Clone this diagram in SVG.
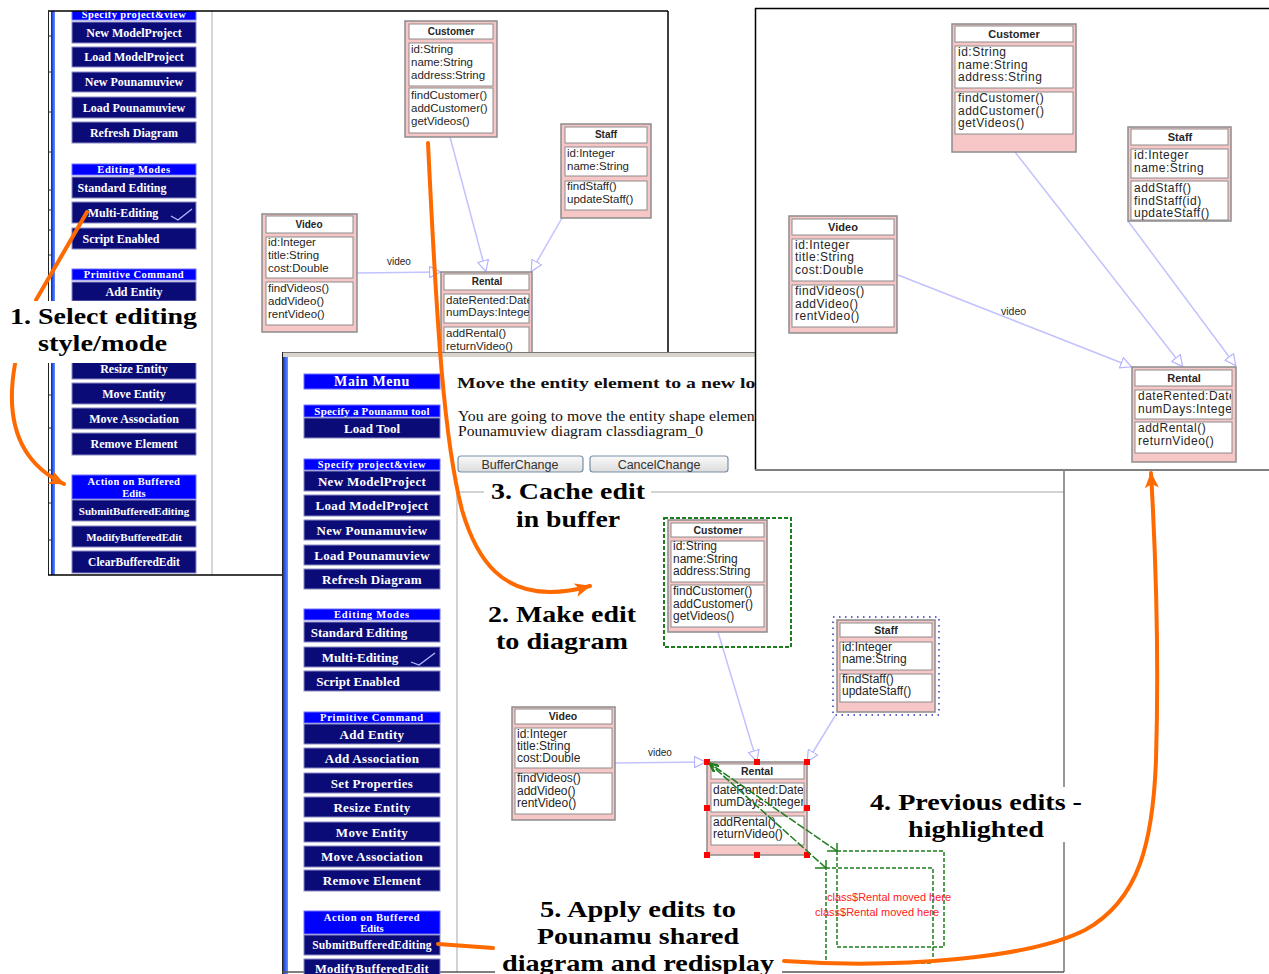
<svg xmlns="http://www.w3.org/2000/svg" width="1269" height="974" viewBox="0 0 1269 974">
  <style>
    .btn { fill: #0b0b78; stroke: #8a8ac4; stroke-width: 1; }
    .hdr { fill: #0000ff; stroke: #7070ff; stroke-width: 1; }
    .bt { font-family: "Liberation Serif", "Times New Roman", serif; font-weight: bold; fill: #ffffff; text-anchor: middle; }
    .outer { fill: #f7c6c6; stroke: #8c8c8c; stroke-width: 1.5; }
    .inner { fill: #ffffff; stroke: #8c8c8c; stroke-width: 1; }
    .ct { font-family: "Liberation Sans", Arial, sans-serif; fill: #262626; }
    .ctr { font-family: "Liberation Sans", Arial, sans-serif; fill: #262626; font-size: 12px; letter-spacing: 0.5px; }
    .ttl { font-family: "Liberation Sans", Arial, sans-serif; font-weight: bold; fill: #262626; text-anchor: middle; }
    .assoc { stroke: #c2c2ff; stroke-width: 1.5; fill: none; }
    .orange { stroke: #ff6a00; stroke-width: 4; fill: none; stroke-linecap: round; }
    .lbl { font-family: "Liberation Serif", "Times New Roman", serif; font-weight: bold; font-size: 24px; text-anchor: middle; fill: #000000; }
    .dlg { font-family: "Liberation Serif", "Times New Roman", serif; fill: #111111; }
    .pbtn { fill: url(#btnGrad); stroke: #7890a8; stroke-width: 1.2; }
    .pbt { font-family: "Liberation Sans", Arial, sans-serif; font-size: 12.5px; fill: #333333; text-anchor: middle; }
    .sel { fill: none; stroke: #1e7d1e; stroke-width: 2; stroke-dasharray: 4 2; }
    .moved { fill: none; stroke: #1e7d1e; stroke-width: 1.5; stroke-dasharray: 4 2; }
    .handle { fill: #ff0000; }
    .note { font-family: "Liberation Sans", Arial, sans-serif; font-size: 11px; fill: #ff2020; }
    .tick { stroke: #b8b8ff; stroke-width: 1.3; fill: none; }
  </style>
  <defs>
    <marker id="openTri" viewBox="0 0 12 12" refX="12" refY="6" markerWidth="12" markerHeight="12" markerUnits="userSpaceOnUse" orient="auto">
      <path d="M0.5,0.5 L11.5,6 L0.5,11.5 z" fill="#ffffff" stroke="#b4b4ff" stroke-width="1.2"/>
    </marker>
    <marker id="orangeHead" viewBox="0 0 16 14" refX="15" refY="7" markerWidth="16" markerHeight="14" markerUnits="userSpaceOnUse" orient="auto">
      <path d="M0,0 L16,7 L0,14 L4,7 z" fill="#ff6a00"/>
    </marker>
    <marker id="greenHead" viewBox="0 0 10 8" refX="10" refY="4" markerWidth="10" markerHeight="8" markerUnits="userSpaceOnUse" orient="auto">
      <path d="M0,0 L10,4 L0,8" fill="none" stroke="#1e7d1e" stroke-width="1.5"/>
    </marker>
    <linearGradient id="btnGrad" x1="0" y1="0" x2="0" y2="1">
      <stop offset="0" stop-color="#fafafa"/>
      <stop offset="1" stop-color="#dcdcdc"/>
    </linearGradient>
    <linearGradient id="winEdge" x1="0" y1="0" x2="1" y2="0">
      <stop offset="0" stop-color="#0a2a9a"/>
      <stop offset="0.5" stop-color="#2f5cf0"/>
      <stop offset="1" stop-color="#6f8fff"/>
    </linearGradient>
    <clipPath id="clipLeft"><rect x="48" y="11" width="620" height="564"/></clipPath>
    <clipPath id="clipTlRental"><rect x="445" y="295" width="84" height="27"/></clipPath>
    <clipPath id="clipRRental"><rect x="1136" y="391" width="95" height="27"/></clipPath>
    <clipPath id="clipMRental"><rect x="712" y="784" width="91" height="27"/></clipPath>
    <clipPath id="clipDialog"><rect x="440" y="357" width="315" height="120"/></clipPath>
    <clipPath id="clipMid"><rect x="282" y="352" width="783" height="622"/></clipPath>
  </defs>

  <rect x="0" y="0" width="1269" height="974" fill="#ffffff"/>

  <!-- ===== Editor window: before the edit (top left) ===== -->
  <g id="window-editor" clip-path="url(#clipLeft)">
    <rect x="48" y="11" width="620" height="564" fill="#ffffff"/>
    <rect x="51" y="11" width="4" height="564" fill="url(#winEdge)"/>
    <g stroke="#333" stroke-width="1">
      <line x1="48" y1="36" x2="51" y2="36"/><line x1="48" y1="72" x2="51" y2="72"/>
      <line x1="48" y1="112" x2="51" y2="112"/><line x1="48" y1="152" x2="51" y2="152"/>
      <line x1="48" y1="190" x2="51" y2="190"/><line x1="48" y1="210" x2="51" y2="210"/>
      <line x1="48" y1="230" x2="51" y2="230"/><line x1="48" y1="255" x2="51" y2="255"/>
      <line x1="48" y1="395" x2="51" y2="395"/><line x1="48" y1="428" x2="51" y2="428"/>
      <line x1="48" y1="470" x2="51" y2="470"/><line x1="48" y1="503" x2="51" y2="503"/>
      <line x1="48" y1="540" x2="51" y2="540"/>
    </g>
    <line x1="212" y1="11" x2="212" y2="575" stroke="#c8c8c8" stroke-width="1.5"/>

    <g id="menu-left">
      <rect class="hdr" x="72" y="8" width="124" height="12"/>
      <text class="bt" x="134" y="18" font-size="10.5" letter-spacing="0.4">Specify project&amp;view</text>
      <rect class="btn" x="72" y="22" width="124" height="21"/>
      <text class="bt" x="134" y="37" font-size="12">New ModelProject</text>
      <rect class="btn" x="72" y="47" width="124" height="20"/>
      <text class="bt" x="134" y="61" font-size="12">Load ModelProject</text>
      <rect class="btn" x="72" y="72" width="124" height="20"/>
      <text class="bt" x="134" y="86" font-size="12">New Pounamuview</text>
      <rect class="btn" x="72" y="97" width="124" height="21"/>
      <text class="bt" x="134" y="111.5" font-size="12">Load Pounamuview</text>
      <rect class="btn" x="72" y="122" width="124" height="21"/>
      <text class="bt" x="134" y="136.5" font-size="12">Refresh Diagram</text>

      <rect class="hdr" x="72" y="164" width="124" height="11"/>
      <text class="bt" x="134" y="173" font-size="10.5" letter-spacing="0.6">Editing Modes</text>
      <rect class="btn" x="72" y="177" width="124" height="21"/>
      <text class="bt" x="122" y="191.5" font-size="12">Standard Editing</text>
      <rect class="btn" x="72" y="202" width="124" height="21"/>
      <text class="bt" x="123" y="216.5" font-size="12">Multi-Editing</text>
      <path class="tick" d="M171,216 L178,220 L192,209"/>
      <rect class="btn" x="72" y="228" width="124" height="21"/>
      <text class="bt" x="121" y="242.5" font-size="12">Script Enabled</text>

      <rect class="hdr" x="72" y="269" width="124" height="11"/>
      <text class="bt" x="134" y="278" font-size="10.5" letter-spacing="0.5">Primitive Command</text>
      <rect class="btn" x="72" y="282" width="124" height="19"/>
      <text class="bt" x="134" y="296" font-size="12">Add Entity</text>
      <rect class="btn" x="72" y="358" width="124" height="21"/>
      <text class="bt" x="134" y="373" font-size="12">Resize Entity</text>
      <rect class="btn" x="72" y="383" width="124" height="21"/>
      <text class="bt" x="134" y="398" font-size="12">Move Entity</text>
      <rect class="btn" x="72" y="408" width="124" height="21"/>
      <text class="bt" x="134" y="423" font-size="12">Move Association</text>
      <rect class="btn" x="72" y="433" width="124" height="22"/>
      <text class="bt" x="134" y="448" font-size="12">Remove Element</text>

      <rect class="hdr" x="72" y="475" width="124" height="24"/>
      <text class="bt" x="134" y="485" font-size="10.5" letter-spacing="0.4">Action on Buffered</text>
      <text class="bt" x="134" y="497" font-size="10.5">Edits</text>
      <rect class="btn" x="72" y="500" width="124" height="21"/>
      <text class="bt" x="134" y="515" font-size="11">SubmitBufferedEditing</text>
      <rect class="btn" x="72" y="526" width="124" height="21"/>
      <text class="bt" x="134" y="540.5" font-size="11">ModifyBufferedEdit</text>
      <rect class="btn" x="72" y="551" width="124" height="22"/>
      <text class="bt" x="134" y="566" font-size="11.5">ClearBufferedEdit</text>
    </g>

    <!-- class diagram shown in the editor -->
    <g id="tl-connectors">
      <line class="assoc" x1="450" y1="137" x2="486" y2="272" marker-end="url(#openTri)"/>
      <line class="assoc" x1="562" y1="218" x2="531" y2="272" marker-end="url(#openTri)"/>
      <line class="assoc" x1="357" y1="273" x2="441" y2="272" marker-end="url(#openTri)"/>
      <text class="ct" x="387" y="265" font-size="10">video</text>
    </g>
    <g id="tl-customer">
      <rect class="outer" x="405" y="21" width="92" height="116"/>
      <rect class="inner" x="409" y="24" width="84" height="15"/>
      <text class="ttl" x="451" y="35" font-size="10">Customer</text>
      <rect class="inner" x="409" y="43" width="84" height="43"/>
      <text class="ct" x="411" y="53" font-size="11.5">id:String</text>
      <text class="ct" x="411" y="66" font-size="11.5">name:String</text>
      <text class="ct" x="411" y="79" font-size="11.5">address:String</text>
      <rect class="inner" x="409" y="88" width="84" height="45"/>
      <text class="ct" x="411" y="99" font-size="11.5">findCustomer()</text>
      <text class="ct" x="411" y="112" font-size="11.5">addCustomer()</text>
      <text class="ct" x="411" y="125" font-size="11.5">getVideos()</text>
    </g>
    <g id="tl-staff">
      <rect class="outer" x="561" y="124" width="90" height="94"/>
      <rect class="inner" x="565" y="127" width="82" height="16"/>
      <text class="ttl" x="606" y="138" font-size="10">Staff</text>
      <rect class="inner" x="565" y="147" width="82" height="29"/>
      <text class="ct" x="567" y="157" font-size="11.5">id:Integer</text>
      <text class="ct" x="567" y="170" font-size="11.5">name:String</text>
      <rect class="inner" x="565" y="181" width="82" height="29"/>
      <text class="ct" x="567" y="190" font-size="11.5">findStaff()</text>
      <text class="ct" x="567" y="203" font-size="11.5">updateStaff()</text>
    </g>
    <g id="tl-video">
      <rect class="outer" x="262" y="214" width="95" height="118"/>
      <rect class="inner" x="266" y="216" width="87" height="17"/>
      <text class="ttl" x="309" y="228" font-size="10">Video</text>
      <rect class="inner" x="266" y="237" width="87" height="41"/>
      <text class="ct" x="268" y="246" font-size="11.5">id:Integer</text>
      <text class="ct" x="268" y="259" font-size="11.5">title:String</text>
      <text class="ct" x="268" y="272" font-size="11.5">cost:Double</text>
      <rect class="inner" x="266" y="282" width="87" height="43"/>
      <text class="ct" x="268" y="292" font-size="11.5">findVideos()</text>
      <text class="ct" x="268" y="305" font-size="11.5">addVideo()</text>
      <text class="ct" x="268" y="318" font-size="11.5">rentVideo()</text>
    </g>
    <g id="tl-rental">
      <rect class="outer" x="441" y="272" width="91" height="95"/>
      <rect class="inner" x="444" y="274" width="85" height="16"/>
      <text class="ttl" x="487" y="285" font-size="10">Rental</text>
      <rect class="inner" x="444" y="294" width="85" height="29"/>
      <g clip-path="url(#clipTlRental)">
        <text class="ct" x="446" y="304" font-size="11.5">dateRented:Date</text>
        <text class="ct" x="446" y="316" font-size="11.5">numDays:Integer</text>
      </g>
      <rect class="inner" x="444" y="327" width="85" height="30"/>
      <text class="ct" x="446" y="337" font-size="11.5">addRental()</text>
      <text class="ct" x="446" y="350" font-size="11.5">returnVideo()</text>
    </g>
  </g>
  <g id="window-editor-frame" fill="none">
    <line x1="48" y1="11" x2="668" y2="11" stroke="#000" stroke-width="1.5"/>
    <line x1="668" y1="11" x2="668" y2="352" stroke="#000" stroke-width="1.5"/>
    <line x1="48.5" y1="11" x2="48.5" y2="575" stroke="#222" stroke-width="1"/>
    <line x1="48" y1="575" x2="282" y2="575" stroke="#000" stroke-width="1.5"/>
  </g>

  <!-- ===== Editor window: making the edit (middle) ===== -->
  <g id="window-edit">
    <rect x="282" y="352" width="783" height="622" fill="#ffffff"/>
    <rect x="282" y="352" width="473" height="5" fill="#d8d4cc"/>
    <line x1="282" y1="352.5" x2="755" y2="352.5" stroke="#777" stroke-width="1"/>
    <rect x="282" y="357" width="6" height="617" fill="url(#winEdge)"/>
    <line x1="282.5" y1="352" x2="282.5" y2="974" stroke="#222" stroke-width="1"/>
    <line x1="457" y1="492" x2="457" y2="972" stroke="#c4c4c4" stroke-width="1.5"/>
    <line x1="457" y1="492" x2="1064" y2="492" stroke="#c4c4c4" stroke-width="1.5"/>
    <line x1="1064" y1="470" x2="1064" y2="972" stroke="#777" stroke-width="1.5"/>
    <line x1="282" y1="972" x2="1064" y2="972" stroke="#555" stroke-width="1.5"/>

    <g id="menu-mid" clip-path="url(#clipMid)">
      <rect class="hdr" x="304" y="374" width="136" height="15"/>
      <text class="bt" x="372" y="386" font-size="14" letter-spacing="0.6">Main Menu</text>
      <rect class="hdr" x="304" y="405" width="136" height="12"/>
      <text class="bt" x="372" y="415" font-size="11" letter-spacing="0.2">Specify a Pounamu tool</text>
      <rect class="btn" x="304" y="418" width="136" height="20"/>
      <text class="bt" x="372" y="433" font-size="13">Load Tool</text>

      <rect class="hdr" x="304" y="459" width="136" height="11"/>
      <text class="bt" x="372" y="468" font-size="10.5" letter-spacing="0.6">Specify project&amp;view</text>
      <rect class="btn" x="304" y="471" width="136" height="20"/>
      <text class="bt" x="372" y="486" font-size="13" letter-spacing="0.3">New ModelProject</text>
      <rect class="btn" x="304" y="495" width="136" height="21"/>
      <text class="bt" x="372" y="510" font-size="13" letter-spacing="0.3">Load ModelProject</text>
      <rect class="btn" x="304" y="520" width="136" height="20"/>
      <text class="bt" x="372" y="535" font-size="13" letter-spacing="0.3">New Pounamuview</text>
      <rect class="btn" x="304" y="545" width="136" height="20"/>
      <text class="bt" x="372" y="560" font-size="13" letter-spacing="0.3">Load Pounamuview</text>
      <rect class="btn" x="304" y="569" width="136" height="20"/>
      <text class="bt" x="372" y="584" font-size="13" letter-spacing="0.3">Refresh Diagram</text>

      <rect class="hdr" x="304" y="609" width="136" height="11"/>
      <text class="bt" x="372" y="618" font-size="10.5" letter-spacing="0.8">Editing Modes</text>
      <rect class="btn" x="304" y="622" width="136" height="20"/>
      <text class="bt" x="359" y="637" font-size="13">Standard Editing</text>
      <rect class="btn" x="304" y="647" width="136" height="20"/>
      <text class="bt" x="360" y="662" font-size="13">Multi-Editing</text>
      <path class="tick" d="M411,662 L419,665 L435,653"/>
      <rect class="btn" x="304" y="671" width="136" height="20"/>
      <text class="bt" x="358" y="686" font-size="13">Script Enabled</text>

      <rect class="hdr" x="304" y="712" width="136" height="11"/>
      <text class="bt" x="372" y="721" font-size="10.5" letter-spacing="0.7">Primitive Command</text>
      <rect class="btn" x="304" y="724" width="136" height="20"/>
      <text class="bt" x="372" y="739" font-size="13" letter-spacing="0.3">Add Entity</text>
      <rect class="btn" x="304" y="748" width="136" height="20"/>
      <text class="bt" x="372" y="763" font-size="13" letter-spacing="0.3">Add Association</text>
      <rect class="btn" x="304" y="773" width="136" height="20"/>
      <text class="bt" x="372" y="788" font-size="13" letter-spacing="0.3">Set Properties</text>
      <rect class="btn" x="304" y="797" width="136" height="20"/>
      <text class="bt" x="372" y="812" font-size="13" letter-spacing="0.3">Resize Entity</text>
      <rect class="btn" x="304" y="822" width="136" height="20"/>
      <text class="bt" x="372" y="837" font-size="13" letter-spacing="0.3">Move Entity</text>
      <rect class="btn" x="304" y="846" width="136" height="21"/>
      <text class="bt" x="372" y="861" font-size="13" letter-spacing="0.3">Move Association</text>
      <rect class="btn" x="304" y="870" width="136" height="21"/>
      <text class="bt" x="372" y="885" font-size="13" letter-spacing="0.3">Remove Element</text>

      <rect class="hdr" x="304" y="911" width="136" height="23"/>
      <text class="bt" x="372" y="921" font-size="10.5" letter-spacing="0.6">Action on Buffered</text>
      <text class="bt" x="372" y="932" font-size="10.5">Edits</text>
      <rect class="btn" x="304" y="935" width="136" height="20"/>
      <text class="bt" x="372" y="949" font-size="11.5" letter-spacing="0.2">SubmitBufferedEditing</text>
      <rect class="btn" x="304" y="959" width="136" height="20"/>
      <text class="bt" x="372" y="973" font-size="12.5" letter-spacing="0.3">ModifyBufferedEdit</text>
    </g>

    <g id="dialog-move" clip-path="url(#clipDialog)">
      <text class="dlg" x="457" y="388" font-size="14.5" font-weight="bold" textLength="350" lengthAdjust="spacingAndGlyphs">Move the entity element to a new location</text>
      <text class="dlg" x="458" y="421" font-size="14" textLength="301" lengthAdjust="spacingAndGlyphs">You are going to move the entity shape element</text>
      <text class="dlg" x="458" y="436" font-size="14" textLength="245" lengthAdjust="spacingAndGlyphs">Pounamuview diagram classdiagram_0</text>
      <rect class="pbtn" x="458" y="456" width="125" height="16" rx="3"/>
      <text class="pbt" x="520" y="468.5">BufferChange</text>
      <rect class="pbtn" x="590" y="456" width="138" height="16" rx="3"/>
      <text class="pbt" x="659" y="468.5">CancelChange</text>
    </g>

    <!-- class diagram being edited -->
    <g id="mid-connectors">
      <line class="assoc" x1="718" y1="632" x2="757" y2="762" marker-end="url(#openTri)"/>
      <line class="assoc" x1="835" y1="716" x2="807" y2="762" marker-end="url(#openTri)"/>
      <line class="assoc" x1="615" y1="763" x2="706" y2="762" marker-end="url(#openTri)"/>
      <text class="ct" x="648" y="756" font-size="10">video</text>
    </g>
    <g id="mid-customer">
      <rect class="sel" x="664" y="518" width="127" height="129"/>
      <rect class="outer" x="668" y="520" width="99" height="112"/>
      <rect class="inner" x="671" y="523" width="93" height="14"/>
      <text class="ttl" x="718" y="534" font-size="10.5">Customer</text>
      <rect class="inner" x="671" y="541" width="93" height="41"/>
      <text class="ct" x="673" y="550" font-size="12">id:String</text>
      <text class="ct" x="673" y="563" font-size="12">name:String</text>
      <text class="ct" x="673" y="575" font-size="12">address:String</text>
      <rect class="inner" x="671" y="585" width="93" height="42"/>
      <text class="ct" x="673" y="595" font-size="12">findCustomer()</text>
      <text class="ct" x="673" y="608" font-size="12">addCustomer()</text>
      <text class="ct" x="673" y="620" font-size="12">getVideos()</text>
    </g>
    <g id="mid-staff">
      <rect x="833" y="617" width="106" height="98" fill="none" stroke="#3030c0" stroke-width="1.5" stroke-dasharray="1.5 4.5"/>
      <rect class="outer" x="837" y="620" width="98" height="92"/>
      <rect class="inner" x="840" y="623" width="92" height="14"/>
      <text class="ttl" x="886" y="634" font-size="10.5">Staff</text>
      <rect class="inner" x="840" y="642" width="92" height="28"/>
      <text class="ct" x="842" y="651" font-size="12">id:Integer</text>
      <text class="ct" x="842" y="663" font-size="12">name:String</text>
      <rect class="inner" x="840" y="674" width="92" height="28"/>
      <text class="ct" x="842" y="683" font-size="12">findStaff()</text>
      <text class="ct" x="842" y="695" font-size="12">updateStaff()</text>
    </g>
    <g id="mid-video">
      <rect class="outer" x="512" y="707" width="103" height="113"/>
      <rect class="inner" x="515" y="709" width="97" height="15"/>
      <text class="ttl" x="563" y="720" font-size="10.5">Video</text>
      <rect class="inner" x="515" y="728" width="97" height="40"/>
      <text class="ct" x="517" y="738" font-size="12">id:Integer</text>
      <text class="ct" x="517" y="750" font-size="12">title:String</text>
      <text class="ct" x="517" y="762" font-size="12">cost:Double</text>
      <rect class="inner" x="515" y="773" width="97" height="41"/>
      <text class="ct" x="517" y="782" font-size="12">findVideos()</text>
      <text class="ct" x="517" y="795" font-size="12">addVideo()</text>
      <text class="ct" x="517" y="807" font-size="12">rentVideo()</text>
    </g>
    <g id="mid-rental">
      <rect class="outer" x="707" y="762" width="100" height="93"/>
      <rect class="inner" x="711" y="764" width="93" height="15"/>
      <text class="ttl" x="757" y="775" font-size="10.5">Rental</text>
      <rect class="inner" x="711" y="783" width="93" height="29"/>
      <g clip-path="url(#clipMRental)">
        <text class="ct" x="713" y="794" font-size="12">dateRented:Date</text>
        <text class="ct" x="713" y="806" font-size="12">numDays:Integer</text>
      </g>
      <rect class="inner" x="711" y="816" width="93" height="29"/>
      <text class="ct" x="713" y="826" font-size="12">addRental()</text>
      <text class="ct" x="713" y="838" font-size="12">returnVideo()</text>
      <rect class="handle" x="704" y="759" width="6" height="6"/>
      <rect class="handle" x="754" y="759" width="6" height="6"/>
      <rect class="handle" x="804" y="759" width="6" height="6"/>
      <rect class="handle" x="704" y="805" width="6" height="6"/>
      <rect class="handle" x="804" y="805" width="6" height="6"/>
      <rect class="handle" x="704" y="852" width="6" height="6"/>
      <rect class="handle" x="754" y="852" width="6" height="6"/>
      <rect class="handle" x="804" y="852" width="6" height="6"/>
    </g>

    <!-- earlier buffered moves of Rental -->
    <g id="buffered-moves">
      <rect class="moved" x="837" y="851" width="107" height="96"/>
      <rect class="moved" x="826" y="868" width="107" height="95"/>
      <g stroke="#1e7d1e" stroke-width="1.5">
        <line x1="827" y1="851" x2="837" y2="851"/>
        <line x1="837" y1="843" x2="837" y2="851"/>
        <line x1="815" y1="868" x2="826" y2="868"/>
        <line x1="826" y1="860" x2="826" y2="868"/>
      </g>
      <line x1="837" y1="851" x2="709" y2="763" stroke="#1e7d1e" stroke-width="1.5" stroke-dasharray="8 2" marker-end="url(#greenHead)"/>
      <line x1="826" y1="868" x2="709" y2="763" stroke="#1e7d1e" stroke-width="1.5" stroke-dasharray="8 2" marker-end="url(#greenHead)"/>
      <text class="note" x="827" y="901">class$Rental moved here</text>
      <text class="note" x="815" y="916">class$Rental moved here</text>
    </g>
  </g>

  <!-- ===== Shared diagram after redisplay (top right) ===== -->
  <g id="window-shared">
    <rect x="755" y="8" width="514" height="462" fill="#ffffff"/>
    <line x1="755" y1="8.5" x2="1269" y2="8.5" stroke="#000" stroke-width="1.5"/>
    <line x1="755.5" y1="8" x2="755.5" y2="470" stroke="#000" stroke-width="1.5"/>
    <line x1="755" y1="470" x2="1269" y2="470" stroke="#808080" stroke-width="2"/>

    <g id="r-connectors">
      <line class="assoc" x1="1015" y1="152" x2="1183" y2="367" marker-end="url(#openTri)"/>
      <line class="assoc" x1="1128" y1="221" x2="1236" y2="366" marker-end="url(#openTri)"/>
      <line class="assoc" x1="898" y1="275" x2="1132" y2="367" marker-end="url(#openTri)"/>
      <text class="ct" x="1001" y="315" font-size="10.5">video</text>
    </g>
    <g id="r-customer">
      <rect class="outer" x="952" y="24" width="124" height="128"/>
      <rect class="inner" x="955" y="26" width="118" height="16"/>
      <text class="ttl" x="1014" y="38" font-size="11">Customer</text>
      <rect class="inner" x="955" y="46" width="118" height="42"/>
      <text class="ctr" x="958" y="56">id:String</text>
      <text class="ctr" x="958" y="68.5">name:String</text>
      <text class="ctr" x="958" y="81">address:String</text>
      <rect class="inner" x="955" y="92" width="118" height="42"/>
      <text class="ctr" x="958" y="102">findCustomer()</text>
      <text class="ctr" x="958" y="114.5">addCustomer()</text>
      <text class="ctr" x="958" y="127">getVideos()</text>
    </g>
    <g id="r-staff">
      <rect class="outer" x="1128" y="127" width="103" height="94"/>
      <rect class="inner" x="1131" y="129" width="97" height="16"/>
      <text class="ttl" x="1180" y="141" font-size="11">Staff</text>
      <rect class="inner" x="1131" y="149" width="97" height="29"/>
      <text class="ctr" x="1134" y="159">id:Integer</text>
      <text class="ctr" x="1134" y="171.5">name:String</text>
      <rect class="inner" x="1131" y="181" width="97" height="39"/>
      <text class="ctr" x="1134" y="192">addStaff()</text>
      <text class="ctr" x="1134" y="204.5">findStaff(id)</text>
      <text class="ctr" x="1134" y="217">updateStaff()</text>
    </g>
    <g id="r-video">
      <rect class="outer" x="789" y="216" width="108" height="117"/>
      <rect class="inner" x="792" y="219" width="102" height="16"/>
      <text class="ttl" x="843" y="231" font-size="11">Video</text>
      <rect class="inner" x="792" y="239" width="102" height="42"/>
      <text class="ctr" x="795" y="248.5">id:Integer</text>
      <text class="ctr" x="795" y="261">title:String</text>
      <text class="ctr" x="795" y="273.5">cost:Double</text>
      <rect class="inner" x="792" y="285" width="102" height="42"/>
      <text class="ctr" x="795" y="295">findVideos()</text>
      <text class="ctr" x="795" y="307.5">addVideo()</text>
      <text class="ctr" x="795" y="320">rentVideo()</text>
    </g>
    <g id="r-rental">
      <rect class="outer" x="1132" y="367" width="104" height="95"/>
      <rect class="inner" x="1135" y="370" width="97" height="16"/>
      <text class="ttl" x="1184" y="382" font-size="11">Rental</text>
      <rect class="inner" x="1135" y="390" width="97" height="29"/>
      <g clip-path="url(#clipRRental)">
        <text class="ctr" x="1138" y="400">dateRented:Date</text>
        <text class="ctr" x="1138" y="412.5">numDays:Integer</text>
      </g>
      <rect class="inner" x="1135" y="422" width="97" height="31"/>
      <text class="ctr" x="1138" y="432">addRental()</text>
      <text class="ctr" x="1138" y="444.5">returnVideo()</text>
    </g>
  </g>

  <!-- ===== Workflow arrows ===== -->
  <g id="connectors">
    <path class="orange" d="M36,300 L87,212"/>
    <path class="orange" d="M15,364 C5,420 18,462 64,484" marker-end="url(#orangeHead)"/>
    <path class="orange" d="M428,143 C437,330 444,440 462,510 C478,565 505,592 550,592 C565,592 576,590 590,586" marker-end="url(#orangeHead)"/>
    <path class="orange" d="M438,944 L493,948"/>
    <path class="orange" d="M784,961 C900,969 1030,958 1085,930 C1140,900 1153,840 1156,760 C1159,660 1156,560 1151,473" marker-end="url(#orangeHead)"/>
  </g>

  <!-- ===== Step labels ===== -->
  <g id="label-1">
    <rect x="2" y="301" width="203" height="62" fill="#ffffff"/>
    <text class="lbl" x="103.5" y="324" textLength="187" lengthAdjust="spacingAndGlyphs">1. Select editing</text>
    <text class="lbl" x="102.5" y="351" textLength="129" lengthAdjust="spacingAndGlyphs">style/mode</text>
  </g>
  <g id="label-3">
    <rect x="484" y="478" width="167" height="55" fill="#ffffff"/>
    <text class="lbl" x="568" y="499" textLength="154" lengthAdjust="spacingAndGlyphs">3. Cache edit</text>
    <text class="lbl" x="568" y="527" textLength="104" lengthAdjust="spacingAndGlyphs">in buffer</text>
  </g>
  <g id="label-2">
    <text class="lbl" x="562" y="622" textLength="148" lengthAdjust="spacingAndGlyphs">2. Make edit</text>
    <text class="lbl" x="562" y="649" textLength="132" lengthAdjust="spacingAndGlyphs">to diagram</text>
  </g>
  <g id="label-4">
    <rect x="866" y="787" width="220" height="55" fill="#ffffff"/>
    <text class="lbl" x="976" y="810" textLength="212" lengthAdjust="spacingAndGlyphs">4. Previous edits -</text>
    <text class="lbl" x="976" y="837" textLength="136" lengthAdjust="spacingAndGlyphs">highlighted</text>
  </g>
  <g id="label-5">
    <rect x="495" y="894" width="287" height="80" fill="#ffffff"/>
    <text class="lbl" x="638" y="917" textLength="196" lengthAdjust="spacingAndGlyphs">5. Apply edits to</text>
    <text class="lbl" x="638" y="944" textLength="202" lengthAdjust="spacingAndGlyphs">Pounamu shared</text>
    <text class="lbl" x="638" y="971" textLength="272" lengthAdjust="spacingAndGlyphs">diagram and redisplay</text>
  </g>
</svg>
